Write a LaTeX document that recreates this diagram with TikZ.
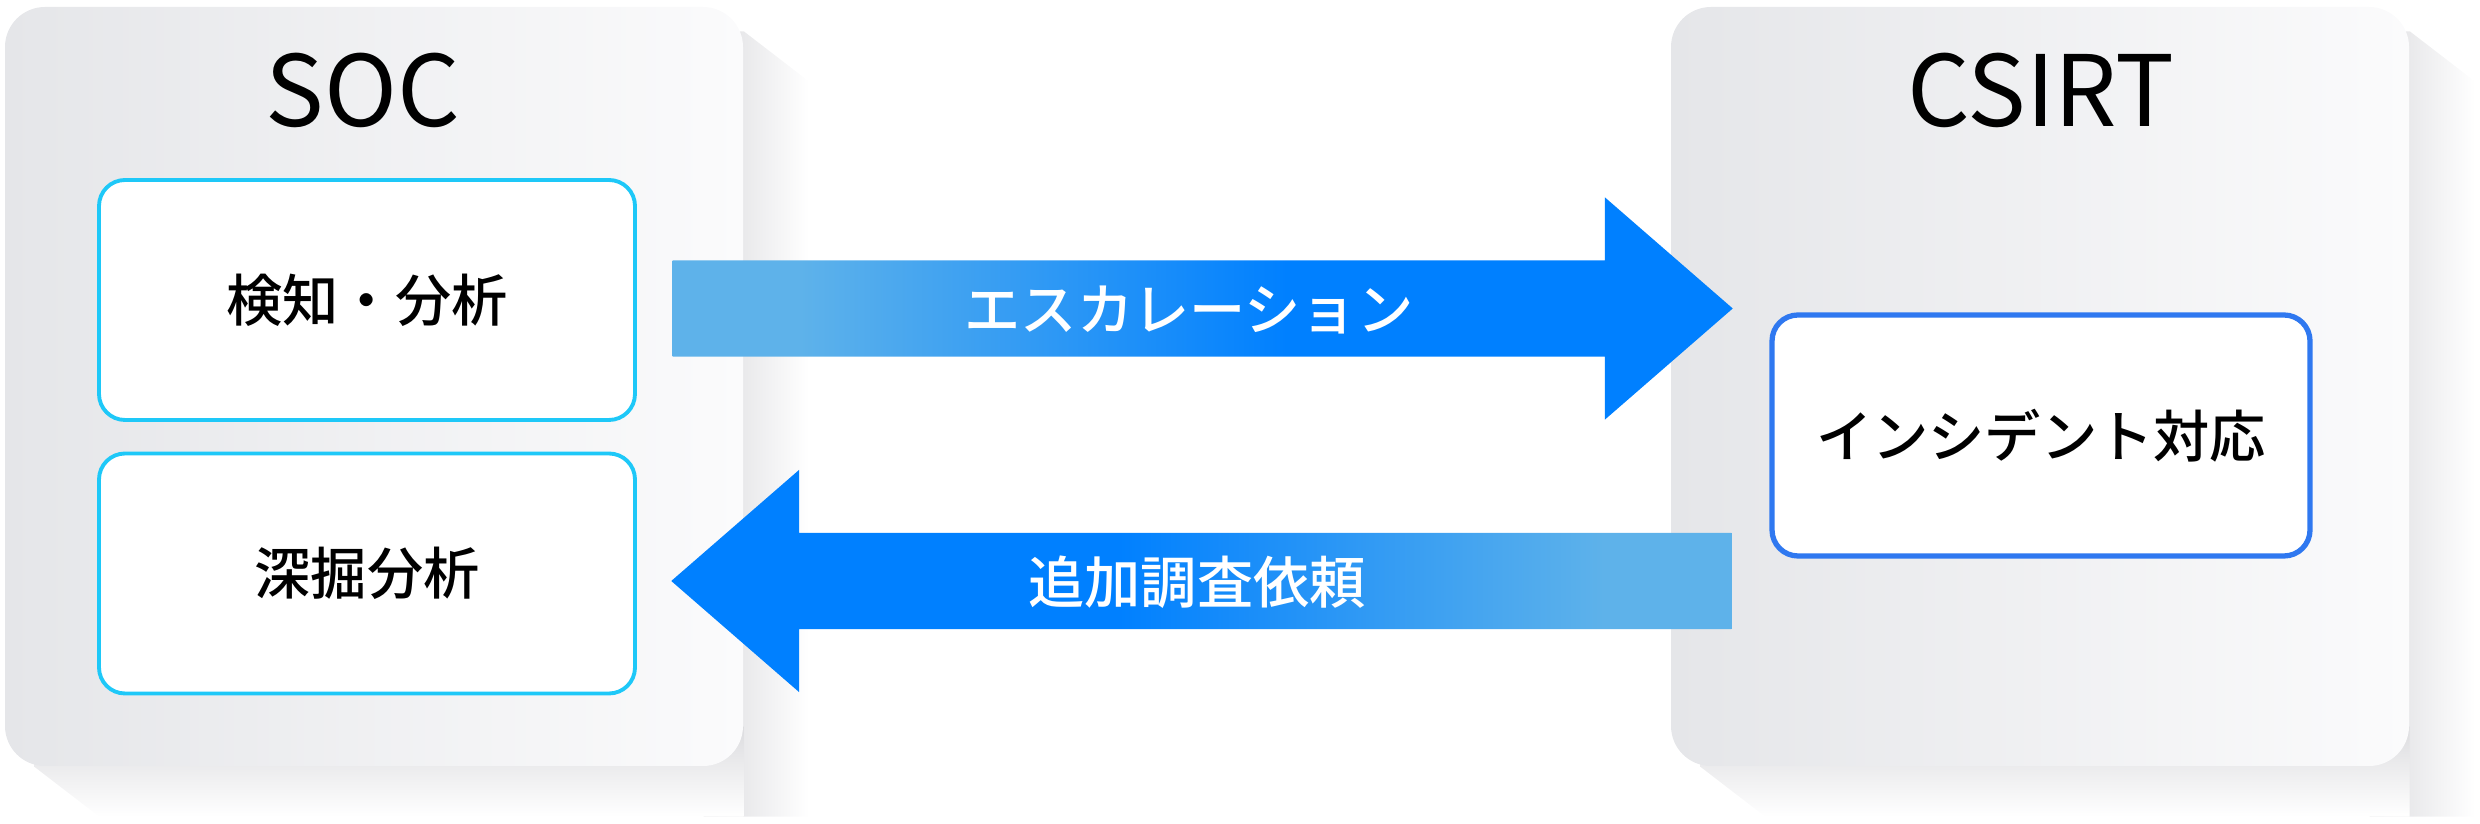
\documentclass[tikz,border=0pt]{standalone}
\usepackage{fontspec}
\setmainfont{Noto Sans CJK JP}
\newfontfamily\jpmed{Noto Sans CJK JP Medium}
\usetikzlibrary{shapes.arrows,backgrounds}

\definecolor{panelL}{HTML}{E5E6E9}
\definecolor{panelR}{HTML}{FBFBFC}
\definecolor{shd}{HTML}{DCDCDF}
\definecolor{cyanline}{HTML}{1EC8F8}
\definecolor{blueline}{HTML}{2F78F0}
\definecolor{arrblue}{HTML}{0080FF}
\definecolor{arrlight}{HTML}{5EB2EA}

\pgfdeclarehorizontalshading{arrowfade}{100bp}{color(0bp)=(arrlight); color(31bp)=(arrlight); color(54bp)=(arrblue); color(100bp)=(arrblue)}

\begin{document}
\begin{tikzpicture}[
  panel/.style={rounded corners=0.4cm, left color=panelL, right color=panelR, minimum width=7.38cm, minimum height=7.59cm, inner sep=0pt},
  title/.style={font=\fontsize{28}{34}\selectfont, anchor=base},
  task/.style={draw=cyanline, line width=1.1pt, fill=white, rounded corners=0.26cm, minimum width=5.36cm, minimum height=2.40cm, font=\jpmed\fontsize{16}{20}\selectfont},
  flow/.style={single arrow, shade, shading=arrowfade, single arrow head extend=0.63cm, single arrow tip angle=82, minimum height=10.6cm, inner sep=0pt, text height=0.70cm, text depth=0.25cm, text=white, font=\jpmed\fontsize{16}{20}\selectfont},
  shadowR/.style={left color=shd, right color=white},
  shadowB/.style={top color=shd, bottom color=white}
  ]

  \useasboundingbox (0,0) rectangle (24.8,-8.24);

  % the two teams
  \node[panel] (soc) at (3.74,-3.865) {};
  \node[panel] (csirt) at (20.40,-3.865) {};

  \node[title] (soctitle) at (3.63,-1.27) {SOC};
  \node[title] (csirttitle) at (20.41,-1.27) {CSIRT};

  % extruded shadows
  \begin{scope}[on background layer]
    \shade[shadowR] ([shift={(-0.4,-0.25)}]soc.north east) -- ([yshift=-0.25cm]soc.north east) -- ++(0.65,-0.5)
      -- ([shift={(0.65,-0.5)}]soc.south east) -- ([shift={(-0.4,-0.5)}]soc.south east) -- cycle;
    \shade[shadowB] ([shift={(0.3,0.4)}]soc.south west) -- ([xshift=0.3cm]soc.south west) -- ++(0.65,-0.5)
      -- ([yshift=-0.5cm]soc.south east) -- ([yshift=0.4cm]soc.south east) -- cycle;

    \shade[shadowR] ([shift={(-0.4,-0.25)}]csirt.north east) -- ([yshift=-0.25cm]csirt.north east) -- ++(0.65,-0.5)
      -- ([shift={(0.65,-0.5)}]csirt.south east) -- ([shift={(-0.4,-0.5)}]csirt.south east) -- cycle;
    \shade[shadowB] ([shift={(0.3,0.4)}]csirt.south west) -- ([xshift=0.3cm]csirt.south west) -- ++(0.65,-0.5)
      -- ([yshift=-0.5cm]csirt.south east) -- ([yshift=0.4cm]csirt.south east) -- cycle;
  \end{scope}

  % tasks
  \node[task] (detect) at (3.67,-3.00) {検知・分析};
  \node[task] (deep) at (3.67,-5.735) {深掘分析};
  \node[task, draw=blueline, line width=1.5pt, minimum width=5.38cm, minimum height=2.41cm] (incident) at (20.41,-4.355) {インシデント対応};

  % hand-over arrows
  \node[flow] (escalate) at (11.75,-3.085) {\hspace{0.28cm}エスカレーション};
  \node[flow, shape border rotate=180, shading angle=180] (request) at (12.29,-5.81) {追加調査依頼\hspace{0.64cm}\null};

\end{tikzpicture}
\end{document}
